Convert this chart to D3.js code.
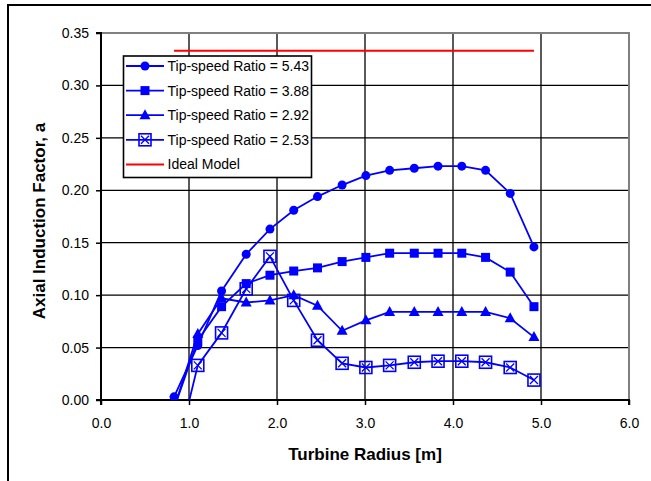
<!DOCTYPE html>
<html><head><meta charset="utf-8">
<script src="https://cdn.jsdelivr.net/npm/d3@7"></script>
<style>body{margin:0;background:#fff;}svg{display:block;font-family:Arial,"Liberation Sans",sans-serif;}</style>
</head><body><svg id="c" width="651" height="481"></svg>
<script>
const radius = [0.83, 1.10, 1.37, 1.65, 1.92, 2.19, 2.46, 2.74, 3.01, 3.28, 3.56, 3.83, 4.10, 4.37, 4.65, 4.92];
const tsr543 = [0.003, 0.052, 0.104, 0.139, 0.163, 0.181, 0.194, 0.205, 0.214, 0.219, 0.221, 0.223, 0.223, 0.219, 0.197, 0.146];
const tsr388 = [-0.008, 0.057, 0.089, 0.111, 0.119, 0.123, 0.126, 0.132, 0.136, 0.140, 0.140, 0.140, 0.140, 0.136, 0.122, 0.089];
const tsr292 = [-0.008, 0.063, 0.097, 0.093, 0.095, 0.100, 0.090, 0.066, 0.076, 0.084, 0.084, 0.084, 0.084, 0.084, 0.078, 0.060];
const tsr253 = [-0.060, 0.033, 0.064, 0.106, 0.137, 0.095, 0.057, 0.035, 0.031, 0.033, 0.036, 0.037, 0.037, 0.036, 0.031, 0.019];
const idealValue = 0.333;
const seriesNames = ["Tip-speed Ratio = 5.43", "Tip-speed Ratio = 3.88", "Tip-speed Ratio = 2.92", "Tip-speed Ratio = 2.53"];
const idealName = "Ideal Model";
const xTicks = [0, 1, 2, 3, 4, 5, 6];
const yTicks = [0, 0.05, 0.10, 0.15, 0.20, 0.25, 0.30, 0.35];
const xTitle = "Turbine Radius [m]";
const yTitle = "Axial Induction Factor, a";

const series = [
  {name: seriesNames[0], values: tsr543, marker: "circle"},
  {name: seriesNames[1], values: tsr388, marker: "square"},
  {name: seriesNames[2], values: tsr292, marker: "triangle"},
  {name: seriesNames[3], values: tsr253, marker: "boxx"}
];

const svg = d3.select("#c");
const L = 101, R = 629, T = 33, B = 400;
const x = d3.scaleLinear().domain([0, 6]).range([L, R]);
const y = d3.scaleLinear().domain([0, 0.35]).range([B, T]);
const blue = "#0000ff";

// outer frame
svg.append("rect").attr("x", 8).attr("y", 5).attr("width", 700).attr("height", 500)
  .attr("fill", "none").attr("stroke", "#000").attr("stroke-width", 2);

// grid
svg.append("g").selectAll("line").data(yTicks.slice(1, -1)).join("line")
  .attr("x1", L).attr("x2", R).attr("y1", d => y(d)).attr("y2", d => y(d))
  .attr("stroke", "#000").attr("stroke-width", 1.3);
svg.append("g").selectAll("line").data(xTicks.slice(1, -1)).join("line")
  .attr("y1", T).attr("y2", B).attr("x1", d => x(d)).attr("x2", d => x(d))
  .attr("stroke", "#000").attr("stroke-width", 1.3);

// top/right border gray
svg.append("path").attr("d", `M${L},${T}H${R}V${B}`).attr("fill", "none")
  .attr("stroke", "#808080").attr("stroke-width", 2);

// axes
const yAxis = d3.axisLeft(y).tickValues(yTicks).tickFormat(d3.format(".2f")).tickSize(5).tickPadding(7);
const xAxis = d3.axisBottom(x).tickValues(xTicks).tickFormat(d3.format(".1f")).tickSize(5).tickPadding(13);
const gy = svg.append("g").attr("transform", `translate(${L},0)`).call(yAxis);
const gx = svg.append("g").attr("transform", `translate(0,${B})`).call(xAxis);
[gx, gy].forEach(g => {
  g.select(".domain").attr("stroke", "#000").attr("stroke-width", 2);
  g.selectAll(".tick line").attr("stroke", "#000").attr("stroke-width", 1.5);
  g.selectAll(".tick text").attr("fill", "#000").attr("font-size", 14).attr("font-family", "Arial, 'Liberation Sans', sans-serif");
});
gy.select(".domain").attr("d", `M-5,${B}H0V${T}H-5`);
gx.select(".domain").attr("d", `M${L},5V0H${R}V5`);

// titles
svg.append("text").attr("x", (L + R) / 2).attr("y", 460).attr("text-anchor", "middle")
  .attr("font-size", 17).attr("font-weight", "bold").text(xTitle);
svg.append("text").attr("transform", "translate(45,221) rotate(-90)").attr("text-anchor", "middle")
  .attr("font-size", 17).attr("font-weight", "bold").text(yTitle);

// clip
svg.append("clipPath").attr("id", "clip").append("rect")
  .attr("x", L).attr("y", T - 10).attr("width", R - L).attr("height", B - T + 10);

// ideal line
svg.append("line").attr("x1", x(radius[0])).attr("x2", x(radius[radius.length - 1]))
  .attr("y1", y(idealValue)).attr("y2", y(idealValue)).attr("stroke", "#ff0000").attr("stroke-width", 2);

function drawMarker(g, type, cx, cy) {
  if (type === "circle") {
    g.append("circle").attr("cx", cx).attr("cy", cy).attr("r", 4.5).attr("fill", blue);
  } else if (type === "square") {
    g.append("rect").attr("x", cx - 4.5).attr("y", cy - 4.5).attr("width", 9).attr("height", 9).attr("fill", blue);
  } else if (type === "triangle") {
    g.append("path").attr("d", `M${cx},${cy - 6}L${cx + 5.5},${cy + 4}L${cx - 5.5},${cy + 4}Z`).attr("fill", blue);
  } else {
    g.append("rect").attr("x", cx - 6).attr("y", cy - 6).attr("width", 12).attr("height", 12)
      .attr("fill", "none").attr("stroke", blue).attr("stroke-width", 1.6);
    g.append("path").attr("d", `M${cx - 4},${cy - 4}L${cx + 4},${cy + 4}M${cx + 4},${cy - 4}L${cx - 4},${cy + 4}`)
      .attr("stroke", blue).attr("stroke-width", 1.3);
  }
}

const line = d3.line().x(d => x(d[0])).y(d => y(d[1]));
const plotG = svg.append("g").attr("clip-path", "url(#clip)");
series.slice().reverse().forEach(s => {
  const pts = radius.map((r, i) => [r, s.values[i]]);
  plotG.append("path").attr("d", line(pts)).attr("fill", "none").attr("stroke", blue).attr("stroke-width", 1.8);
  const mg = plotG.append("g");
  pts.forEach(p => drawMarker(mg, s.marker, x(p[0]), y(p[1])));
});

// legend
const lg = svg.append("g");
lg.append("rect").attr("x", 123.5).attr("y", 56).attr("width", 188).attr("height", 121.5)
  .attr("fill", "#fff").attr("stroke", "#000").attr("stroke-width", 1.6);
const rowY = i => 66 + i * 24.6;
series.forEach((s, i) => {
  lg.append("line").attr("x1", 126).attr("x2", 164).attr("y1", rowY(i)).attr("y2", rowY(i))
    .attr("stroke", blue).attr("stroke-width", 1.8);
  drawMarker(lg, s.marker, 145, rowY(i));
  lg.append("text").attr("x", 167.5).attr("y", rowY(i)).attr("dy", "0.36em").attr("font-size", 14).text(s.name);
});
lg.append("line").attr("x1", 126).attr("x2", 164).attr("y1", rowY(4)).attr("y2", rowY(4))
  .attr("stroke", "#ff0000").attr("stroke-width", 2);
lg.append("text").attr("x", 167.5).attr("y", rowY(4)).attr("dy", "0.36em").attr("font-size", 14).text(idealName);
</script></body></html>
